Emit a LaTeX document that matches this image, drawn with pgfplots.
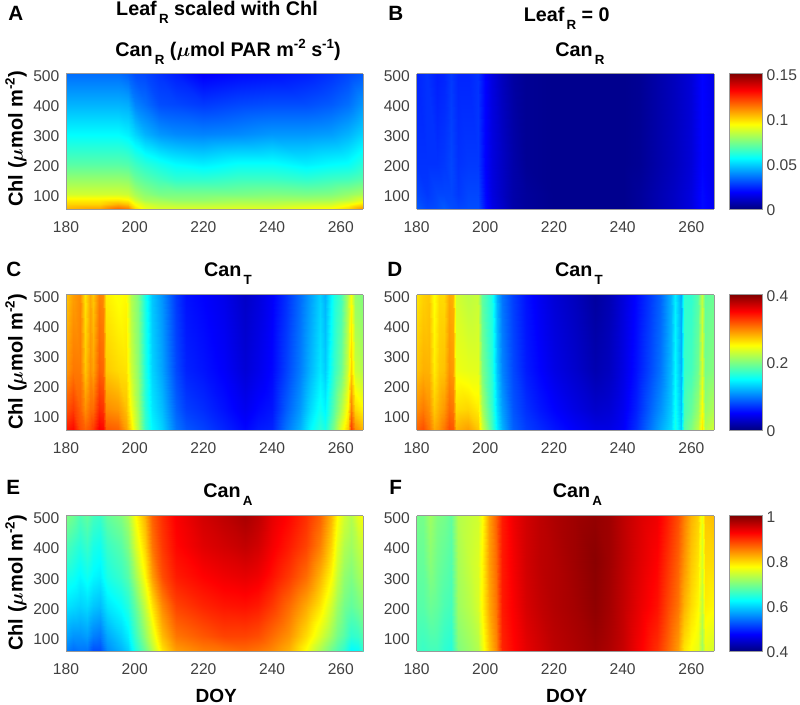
\documentclass[border=0pt]{standalone}
\usepackage{pgfplots}
\pgfplotsset{compat=1.18}
\usepackage{fontspec}
\setmainfont{Liberation Sans}
\definecolor{ticktxt}{gray}{0.25}
\definecolor{frameg}{gray}{0.6}
\newcommand\lsub[1]{\raisebox{-6pt}{\fontsize{10}{10}\selectfont\,#1}}
\newcommand\lsup[1]{\raisebox{6pt}{\fontsize{10}{10}\selectfont #1}}
\newcommand\tlab[3]{\node[anchor=base,inner sep=0pt,font=\fontsize{14.8}{17}\selectfont\bfseries\boldmath] at ({#1*0.75pt},{(705-#2)*0.75pt}) {#3};}
\newcommand\plet[3]{\node[anchor=base west,inner sep=0pt,font=\fontsize{15.5}{17}\selectfont\bfseries] at ({#1*0.75pt},{(705-#2)*0.75pt}) {#3};}
\newcommand\chllab[1]{\node[rotate=90,anchor=center,inner sep=0pt,font=\fontsize{15}{17}\selectfont\bfseries\boldmath] at ({16*0.75pt},{(705-#1)*0.75pt}) {Chl ($\mu$mol m\lsup{-2})};}
\pgfplotsset{
  hm/.style={
    scale only axis, width=223.1pt, height=101.6pt,
    view={0}{90}, xmin=180, xmax=266.6, ymin=50, ymax=500,
    xtick={180,200,220,240,260}, ytick={100,200,300,400,500},
    axis on top, tick style={draw=none},
    axis line style={frameg,line width=0.5pt},
    colormap/jet,
    /pgf/number format/assume math mode=true,
    /pgf/number format/set thousands separator={},
    ticklabel style={font=\fontsize{11.7}{14}\selectfont,text=ticktxt},
    xticklabel style={yshift=-5.9pt},
    yticklabel style={yshift=-2pt,xshift=-1.5pt},
    every axis x label/.style={at={(axis description cs:0.505,-0.33)},anchor=center,font=\fontsize{14.3}{17}\selectfont\bfseries},
  },
  cb/.style 2 args={
    colorbar,
    colorbar/width=24.2pt,
    colorbar style={
      at={(parent axis.north east)}, anchor=north west, xshift=3.2pt,
      tick style={draw=none}, axis line style={frameg,line width=0.5pt},
      ytick={#1}, yticklabels={#2}, scaled y ticks=false,
      yticklabel style={font=\fontsize{11.7}{14}\selectfont,text=ticktxt,yshift=-1pt},
    },
  },
}
\begin{document}
\begin{tikzpicture}
\path[use as bounding box] (0,0) rectangle (600pt,528.75pt);

% A
\begin{axis}[hm,at={(49.5pt,372pt)},anchor=south west,point meta min=0,point meta max=0.15]
\addplot3[surf,shader=interp,mesh/cols=15] coordinates {
(180,50,.105)(190,50,.108)(195,50,.117)(198,50,.114)(200,50,.100)(203,50,.092)(207,50,.089)(212,50,.089)(220,50,.089)(230,50,.090)(240,50,.090)(250,50,.093)(257,50,.095)(262,50,.100)(266.6,50,.110)
(180,65,.100)(190,65,.100)(195,65,.105)(198,65,.102)(200,65,.093)(203,65,.087)(207,65,.084)(212,65,.083)(220,65,.083)(230,65,.084)(240,65,.084)(250,65,.086)(257,65,.087)(262,65,.092)(266.6,65,.098)
(180,80,.096)(190,80,.096)(195,80,.097)(198,80,.095)(200,80,.087)(203,80,.081)(207,80,.080)(212,80,.078)(220,80,.078)(230,80,.080)(240,80,.080)(250,80,.080)(257,80,.081)(262,80,.084)(266.6,80,.090)
(180,100,.087)(190,100,.087)(195,100,.087)(198,100,.086)(200,100,.081)(203,100,.077)(207,100,.074)(212,100,.074)(220,100,.074)(230,100,.074)(240,100,.075)(250,100,.074)(257,100,.075)(262,100,.078)(266.6,100,.081)
(180,150,.078)(190,150,.078)(195,150,.078)(198,150,.077)(200,150,.072)(203,150,.069)(207,150,.066)(212,150,.063)(220,150,.063)(230,150,.065)(240,150,.065)(250,150,.063)(257,150,.065)(262,150,.066)(266.6,150,.069)
(180,200,.069)(190,200,.069)(195,200,.069)(198,200,.068)(200,200,.065)(203,200,.062)(207,200,.059)(212,200,.056)(220,200,.054)(230,200,.057)(240,200,.057)(250,200,.054)(257,200,.056)(262,200,.057)(266.6,200,.062)
(180,300,.056)(190,300,.056)(195,300,.056)(198,300,.054)(200,300,.050)(203,300,.045)(207,300,.041)(212,300,.039)(220,300,.038)(230,300,.039)(240,300,.041)(250,300,.041)(257,300,.042)(262,300,.045)(266.6,300,.050)
(180,400,.045)(190,400,.045)(195,400,.045)(198,400,.044)(200,400,.038)(203,400,.035)(207,400,.030)(212,400,.029)(220,400,.027)(230,400,.029)(240,400,.030)(250,400,.030)(257,400,.032)(262,400,.035)(266.6,400,.041)
(180,500,.035)(190,500,.035)(195,500,.035)(198,500,.033)(200,500,.030)(203,500,.029)(207,500,.026)(212,500,.023)(220,500,.018)(230,500,.020)(240,500,.021)(250,500,.023)(257,500,.026)(262,500,.029)(266.6,500,.032)
};
\end{axis}

% B
\begin{axis}[hm,cb={0,0.05,0.1,0.15}{0,0.05,0.1,0.15},at={(312.4pt,372pt)},anchor=south west,point meta min=0,point meta max=0.15]
\addplot3[surf,shader=interp,mesh/cols=22] coordinates {
(180,50,.032)(183,50,.029)(186,50,.030)(188,50,.032)(190,50,.030)(192,50,.029)(195,50,.030)(198,50,.030)(200,50,.021)(202,50,.015)(205,50,.011)(208,50,.006)(212,50,.004)(220,50,.002)(230,50,.002)(240,50,.002)(245,50,.004)(250,50,.007)(255,50,.010)(260,50,.014)(263,50,.020)(266.6,50,.017)
(180,100,.029)(183,100,.027)(186,100,.029)(188,100,.029)(190,100,.029)(192,100,.027)(195,100,.029)(198,100,.029)(200,100,.020)(202,100,.014)(205,100,.010)(208,100,.006)(212,100,.004)(220,100,.002)(230,100,.002)(240,100,.002)(245,100,.004)(250,100,.007)(255,100,.010)(260,100,.014)(263,100,.020)(266.6,100,.016)
(180,200,.026)(183,200,.026)(186,200,.026)(188,200,.027)(190,200,.029)(192,200,.026)(195,200,.027)(198,200,.027)(200,200,.019)(202,200,.014)(205,200,.010)(208,200,.006)(212,200,.003)(220,200,.002)(230,200,.002)(240,200,.002)(245,200,.003)(250,200,.006)(255,200,.009)(260,200,.013)(263,200,.019)(266.6,200,.016)
(180,500,.024)(183,500,.026)(186,500,.023)(188,500,.024)(190,500,.027)(192,500,.024)(195,500,.024)(198,500,.026)(200,500,.019)(202,500,.014)(205,500,.009)(208,500,.005)(212,500,.003)(220,500,.002)(230,500,.002)(240,500,.002)(245,500,.003)(250,500,.006)(255,500,.009)(260,500,.013)(263,500,.019)(266.6,500,.015)
};
\end{axis}

% C
\begin{axis}[hm,at={(49.5pt,206.25pt)},anchor=south west,point meta min=0,point meta max=0.4]
\addplot3[surf,shader=interp,mesh/cols=34] coordinates {
(180,50,.34)(182,50,.348)(184,50,.32)(185.5,50,.312)(187,50,.32)(188,50,.328)(189.5,50,.352)(190.7,50,.348)(191.5,50,.316)(195,50,.312)(197.5,50,.288)(199,50,.26)(201,50,.22)(203,50,.172)(205,50,.148)(208,50,.132)(212,50,.096)(215,50,.084)(220,50,.076)(226,50,.064)(232,50,.052)(236,50,.06)(240,50,.064)(244,50,.096)(248,50,.12)(251,50,.148)(254,50,.168)(255.5,50,.16)(258,50,.20)(260,50,.24)(262,50,.272)(263,50,.328)(264,50,.296)(266.6,50,.28)
(180,120,.316)(182,120,.327)(184,120,.312)(185.5,120,.294)(187,120,.307)(188,120,.308)(189.5,120,.334)(190.7,120,.33)(191.5,120,.295)(195,120,.29)(197.5,120,.275)(199,120,.246)(201,120,.213)(203,120,.168)(205,120,.141)(208,120,.124)(212,120,.088)(215,120,.074)(220,120,.067)(226,120,.056)(232,120,.044)(236,120,.052)(240,120,.058)(244,120,.086)(248,120,.11)(251,120,.135)(254,120,.155)(255.5,120,.146)(258,120,.186)(260,120,.218)(262,120,.254)(263,120,.30)(264,120,.265)(266.6,120,.252)
(180,250,.289)(182,250,.303)(184,250,.302)(185.5,250,.273)(187,250,.293)(188,250,.286)(189.5,250,.313)(190.7,250,.309)(191.5,250,.271)(195,250,.264)(197.5,250,.261)(199,250,.23)(201,250,.205)(203,250,.163)(205,250,.133)(208,250,.114)(212,250,.078)(215,250,.063)(220,250,.057)(226,250,.048)(232,250,.034)(236,250,.042)(240,250,.052)(244,250,.075)(248,250,.099)(251,250,.121)(254,250,.141)(255.5,250,.13)(258,250,.17)(260,250,.192)(262,250,.233)(263,250,.268)(264,250,.23)(266.6,250,.22)
(180,500,.272)(182,500,.288)(184,500,.296)(185.5,500,.26)(187,500,.284)(188,500,.272)(189.5,500,.30)(190.7,500,.296)(191.5,500,.256)(195,500,.248)(197.5,500,.252)(199,500,.22)(201,500,.20)(203,500,.16)(205,500,.128)(208,500,.108)(212,500,.072)(215,500,.056)(220,500,.05)(226,500,.042)(232,500,.028)(236,500,.036)(240,500,.048)(244,500,.068)(248,500,.092)(251,500,.112)(254,500,.132)(255.5,500,.12)(258,500,.16)(260,500,.176)(262,500,.22)(263,500,.248)(264,500,.208)(266.6,500,.20)
};
\end{axis}

% D
\begin{axis}[hm,cb={0,0.2,0.4}{0,0.2,0.4},at={(312.4pt,206.25pt)},anchor=south west,point meta min=0,point meta max=0.4]
\addplot3[surf,shader=interp,mesh/cols=35] coordinates {
(180,50,.312)(182,50,.32)(183.5,50,.304)(185,50,.284)(186.5,50,.292)(188,50,.304)(189.5,50,.32)(190.7,50,.316)(191.5,50,.28)(195,50,.288)(198,50,.272)(199,50,.232)(202,50,.176)(203.5,50,.144)(205,50,.12)(208,50,.088)(212,50,.074)(216,50,.066)(220,50,.058)(226,50,.048)(232,50,.04)(236,50,.04)(240,50,.048)(244,50,.068)(248,50,.096)(251,50,.116)(254,50,.136)(255.2,50,.16)(257,50,.132)(258,50,.184)(260,50,.20)(262,50,.224)(263,50,.26)(264,50,.22)(266.6,50,.232)
(180,120,.294)(182,120,.302)(183.5,120,.293)(185,120,.271)(186.5,120,.282)(188,120,.29)(189.5,120,.307)(190.7,120,.303)(191.5,120,.263)(195,120,.266)(198,120,.257)(199,120,.217)(202,120,.17)(203.5,120,.136)(205,120,.112)(208,120,.083)(212,120,.068)(216,120,.058)(220,120,.05)(226,120,.039)(232,120,.03)(236,120,.033)(240,120,.044)(244,120,.062)(248,120,.088)(251,120,.106)(254,120,.13)(255.2,120,.154)(257,120,.126)(258,120,.178)(260,120,.189)(262,120,.21)(263,120,.249)(264,120,.208)(266.6,120,.219)
(180,250,.273)(182,250,.281)(183.5,250,.28)(185,250,.257)(186.5,250,.271)(188,250,.274)(189.5,250,.293)(190.7,250,.289)(191.5,250,.244)(195,250,.24)(198,250,.239)(199,250,.199)(202,250,.164)(203.5,250,.126)(205,250,.102)(208,250,.078)(212,250,.06)(216,250,.05)(220,250,.04)(226,250,.03)(232,250,.019)(236,250,.025)(240,250,.039)(244,250,.056)(248,250,.078)(251,250,.095)(254,250,.124)(255.2,250,.148)(257,250,.12)(258,250,.172)(260,250,.176)(262,250,.194)(263,250,.236)(264,250,.196)(266.6,250,.202)
(180,500,.26)(182,500,.268)(183.5,500,.272)(185,500,.248)(186.5,500,.264)(188,500,.264)(189.5,500,.284)(190.7,500,.28)(191.5,500,.232)(195,500,.224)(198,500,.228)(199,500,.188)(202,500,.16)(203.5,500,.12)(205,500,.096)(208,500,.074)(212,500,.056)(216,500,.044)(220,500,.034)(226,500,.024)(232,500,.012)(236,500,.02)(240,500,.036)(244,500,.052)(248,500,.072)(251,500,.088)(254,500,.12)(255.2,500,.144)(257,500,.116)(258,500,.168)(260,500,.168)(262,500,.184)(263,500,.228)(264,500,.188)(266.6,500,.192)
};
\end{axis}

% E
\begin{axis}[hm,xlabel={DOY},at={(49.5pt,40.3pt)},anchor=south west,point meta min=0.4,point meta max=1]
\addplot3[surf,shader=interp,mesh/cols=28] coordinates {
(180,50,.55)(182,50,.538)(184,50,.544)(186,50,.544)(188,50,.52)(190,50,.52)(192,50,.556)(196,50,.58)(198,50,.598)(200,50,.64)(203,50,.688)(205,50,.73)(208,50,.79)(212,50,.832)(220,50,.85)(226,50,.856)(232,50,.862)(236,50,.856)(240,50,.844)(245,50,.82)(250,50,.772)(254,50,.724)(257,50,.688)(259,50,.67)(261,50,.652)(263,50,.622)(265,50,.628)(266.6,50,.652)
(180,100,.574)(182,100,.562)(184,100,.562)(186,100,.568)(188,100,.55)(190,100,.544)(192,100,.574)(196,100,.598)(198,100,.616)(200,100,.658)(203,100,.712)(205,100,.754)(208,100,.814)(212,100,.856)(220,100,.874)(226,100,.886)(232,100,.886)(236,100,.88)(240,100,.862)(245,100,.838)(250,100,.796)(254,100,.754)(257,100,.718)(259,100,.694)(261,100,.676)(263,100,.652)(265,100,.658)(266.6,100,.676)
(180,200,.61)(182,200,.604)(184,200,.598)(186,200,.604)(188,200,.592)(190,200,.586)(192,200,.61)(196,200,.628)(198,200,.646)(200,200,.682)(203,200,.742)(205,200,.79)(208,200,.844)(212,200,.886)(220,200,.904)(226,200,.913)(232,200,.916)(236,200,.91)(240,200,.892)(245,200,.862)(250,200,.826)(254,200,.79)(257,200,.748)(259,200,.718)(261,200,.694)(263,200,.682)(265,200,.694)(266.6,200,.706)
(180,300,.64)(182,300,.634)(184,300,.622)(186,300,.634)(188,300,.622)(190,300,.616)(192,300,.64)(196,300,.658)(198,300,.676)(200,300,.718)(203,300,.778)(205,300,.832)(208,300,.88)(212,300,.91)(220,300,.925)(226,300,.934)(232,300,.94)(236,300,.934)(240,300,.916)(245,300,.892)(250,300,.862)(254,300,.82)(257,300,.778)(259,300,.742)(261,300,.712)(263,300,.70)(265,300,.718)(266.6,300,.73)
(180,400,.67)(182,400,.658)(184,400,.646)(186,400,.658)(188,400,.64)(190,400,.634)(192,400,.658)(196,400,.676)(198,400,.70)(200,400,.748)(203,400,.802)(205,400,.856)(208,400,.892)(212,400,.922)(220,400,.943)(226,400,.952)(232,400,.961)(236,400,.952)(240,400,.931)(245,400,.91)(250,400,.886)(254,400,.85)(257,400,.802)(259,400,.76)(261,400,.73)(263,400,.718)(265,400,.736)(266.6,400,.748)
(180,500,.70)(182,500,.688)(184,500,.67)(186,500,.682)(188,500,.664)(190,500,.658)(192,500,.682)(196,500,.70)(198,500,.724)(200,500,.772)(203,500,.82)(205,500,.868)(208,500,.898)(212,500,.928)(220,500,.952)(226,500,.964)(232,500,.976)(236,500,.964)(240,500,.94)(245,500,.922)(250,500,.898)(254,500,.868)(257,500,.82)(259,500,.778)(261,500,.748)(263,500,.73)(265,500,.76)(266.6,500,.772)
};
\end{axis}

% F
\begin{axis}[hm,cb={0.4,0.6,0.8,1}{0.4,0.6,0.8,1},xlabel={DOY},at={(312.4pt,40.3pt)},anchor=south west,point meta min=0.4,point meta max=1]
\addplot3[surf,shader=interp,mesh/cols=31] coordinates {
(180,50,.664)(182,50,.658)(184,50,.664)(186,50,.664)(188,50,.652)(190,50,.646)(192,50,.70)(196,50,.718)(198,50,.73)(199,50,.76)(201,50,.808)(203,50,.844)(205,50,.904)(208,50,.922)(212,50,.94)(216,50,.952)(220,50,.964)(226,50,.973)(232,50,.982)(236,50,.973)(240,50,.958)(245,50,.928)(250,50,.898)(253,50,.868)(256,50,.832)(258,50,.79)(260,50,.772)(262,50,.76)(263,50,.718)(264,50,.76)(266.6,50,.748)
(180,200,.676)(182,200,.676)(184,200,.688)(186,200,.682)(188,200,.67)(190,200,.664)(192,200,.718)(196,200,.736)(198,200,.751)(199,200,.778)(201,200,.826)(203,200,.856)(205,200,.91)(208,200,.928)(212,200,.949)(216,200,.961)(220,200,.97)(226,200,.979)(232,200,.991)(236,200,.979)(240,200,.961)(245,200,.937)(250,200,.916)(253,200,.886)(256,200,.856)(258,200,.82)(260,200,.796)(262,200,.778)(263,200,.736)(264,200,.784)(266.6,200,.778)
(180,350,.685)(182,350,.685)(184,350,.706)(186,350,.691)(188,350,.682)(190,350,.673)(192,350,.724)(196,350,.745)(198,350,.754)(199,350,.778)(201,350,.832)(203,350,.862)(205,350,.91)(208,350,.931)(212,350,.952)(216,350,.964)(220,350,.97)(226,350,.982)(232,350,.994)(236,350,.982)(240,350,.964)(245,350,.943)(250,350,.925)(253,350,.898)(256,350,.868)(258,350,.838)(260,350,.808)(262,350,.79)(263,350,.748)(264,350,.796)(266.6,350,.796)
(180,500,.694)(182,500,.694)(184,500,.718)(186,500,.70)(188,500,.694)(190,500,.682)(192,500,.73)(196,500,.742)(198,500,.748)(199,500,.772)(201,500,.832)(203,500,.868)(205,500,.91)(208,500,.934)(212,500,.952)(216,500,.964)(220,500,.973)(226,500,.982)(232,500,.988)(236,500,.982)(240,500,.964)(245,500,.946)(250,500,.934)(253,500,.91)(256,500,.88)(258,500,.85)(260,500,.82)(262,500,.802)(263,500,.76)(264,500,.808)(266.6,500,.814)
};
\end{axis}

\chllab{139}
\chllab{362}
\chllab{583}
\tlab{217}{16}{Leaf\lsub{R} scaled with Chl}
\tlab{228}{56.7}{Can\lsub{R} ($\mu$mol PAR m\lsup{-2} s\lsup{-1})}
\tlab{566.7}{21.7}{Leaf\lsub{R} = 0}
\tlab{580}{56.7}{Can\lsub{R}}
\tlab{228}{276.7}{Can\lsub{T}}
\tlab{579}{276.7}{Can\lsub{T}}
\tlab{228}{498}{Can\lsub{A}}
\tlab{577.5}{498}{Can\lsub{A}}
\plet{8}{20.7}{A}
\plet{388}{20.7}{B}
\plet{6}{277}{C}
\plet{387}{277}{D}
\plet{6}{495}{E}
\plet{389}{495}{F}
\end{tikzpicture}
\end{document}
